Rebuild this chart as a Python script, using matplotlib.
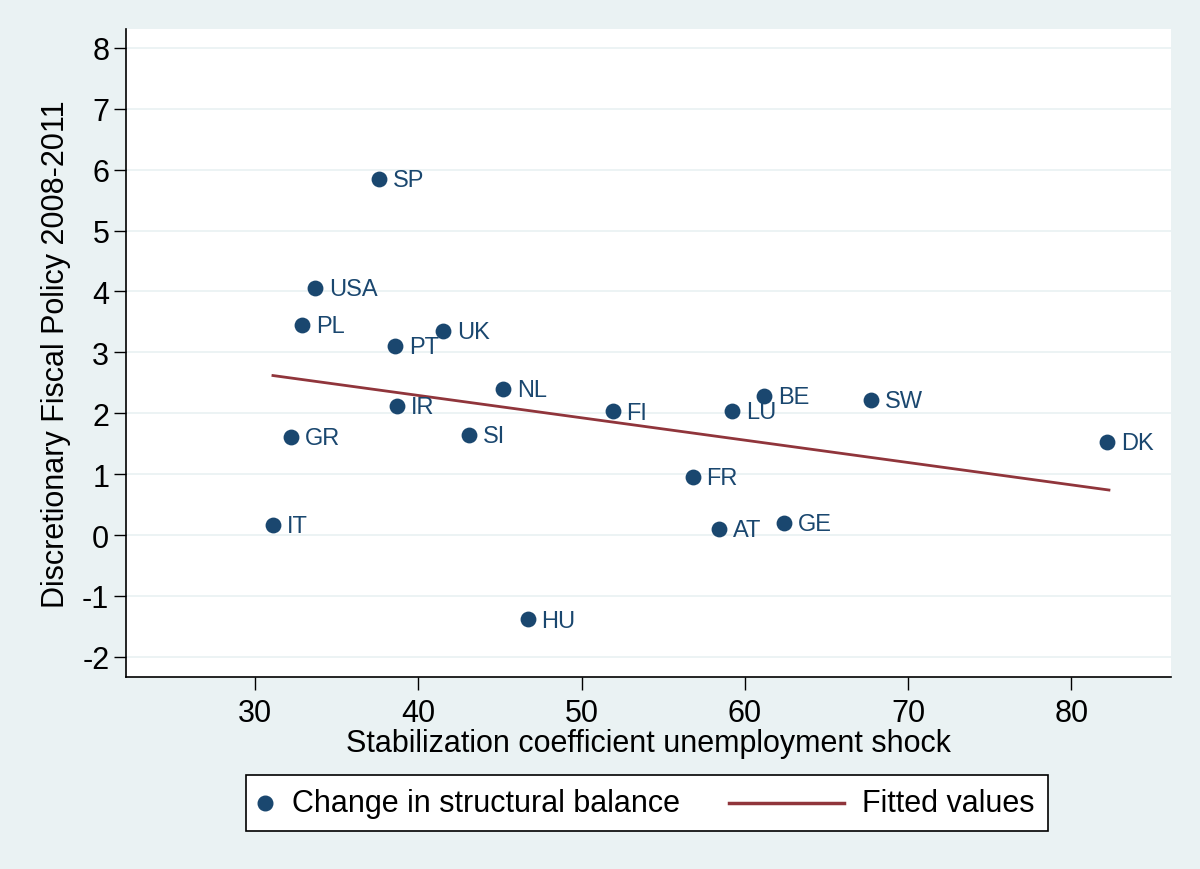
import matplotlib.pyplot as plt
from matplotlib.lines import Line2D
from matplotlib.patches import Rectangle

# Country data
countries = ['SP', 'USA', 'PL', 'PT', 'UK', 'NL', 'IR', 'GR', 'SI', 'FI',
             'FR', 'LU', 'BE', 'SW', 'DK', 'AT', 'GE', 'IT', 'HU']
stab_coef = [37.6, 33.7, 32.9, 38.6, 41.5, 45.2, 38.7, 32.2, 43.1, 51.9,
             56.8, 59.2, 61.2, 67.7, 82.2, 58.4, 62.4, 31.1, 46.7]
fiscal = [5.85, 4.06, 3.45, 3.11, 3.35, 2.40, 2.12, 1.61, 1.65, 2.03,
          0.96, 2.04, 2.29, 2.22, 1.53, 0.10, 0.20, 0.17, -1.38]

# Fitted line endpoints
fit_x = [31.1, 82.3]
fit_y = [2.62, 0.74]

legend_labels = ['Change in structural balance', 'Fitted values']

navy = '#1a476f'
maroon = '#90353b'
bg = '#eaf2f3'

plt.rcParams['font.family'] = ['Liberation Sans', 'DejaVu Sans']
plt.rcParams['axes.unicode_minus'] = False

W, H = 1200, 870
fig = plt.figure(figsize=(12, 8.7), dpi=100)
fig.set_facecolor(bg)
ax = fig.add_axes([126 / W, 1 - 678 / H, (1171 - 126) / W, (678 - 30) / H])
ax.set_facecolor('white')

ax.set_xlim(22.1, 86.1)
ax.set_ylim(-2.33, 8.31)
ax.set_xticks([30, 40, 50, 60, 70, 80])
ax.set_yticks(range(-2, 9))
ax.grid(axis='y', color=bg, linewidth=1.3)
ax.set_axisbelow(True)

for side in ['top', 'right']:
    ax.spines[side].set_visible(False)
for side in ['left', 'bottom']:
    ax.spines[side].set_linewidth(1.2)

ax.tick_params(direction='out', length=9, width=1, labelsize=22, pad=3)
ax.tick_params(axis='x', pad=6)

ax.plot(fit_x, fit_y, color=maroon, linewidth=2, zorder=2)
ax.scatter(stab_coef, fiscal, s=130, color=navy, zorder=3, linewidths=0)
for name, x, y in zip(countries, stab_coef, fiscal):
    ax.annotate(name, (x, y), xytext=(10, -1), textcoords='offset points',
                va='center', ha='left', fontsize=17, color=navy)

ax.set_xlabel('Stabilization coefficient unemployment shock', fontsize=22, labelpad=0)
ax.set_ylabel('Discretionary Fiscal Policy 2008-2011', fontsize=22, labelpad=8)

# Legend box drawn in figure pixel coordinates
ly = 1 - 804 / H
fig.patches.append(Rectangle((246 / W, 1 - 832 / H), (1048 - 246) / W, 56 / H,
                             transform=fig.transFigure, facecolor='white',
                             edgecolor='black', linewidth=1.2))
fig.add_artist(Line2D([265 / W], [ly], marker='o', markersize=10.5, color=navy,
                      linestyle='none', transform=fig.transFigure))
fig.text(292 / W, ly, legend_labels[0], fontsize=22, va='center', ha='left')
fig.add_artist(Line2D([729 / W, 844 / W], [ly, ly], color=maroon, linewidth=2.5,
                      transform=fig.transFigure))
fig.text(862 / W, ly, legend_labels[1], fontsize=22, va='center', ha='left')

fig.savefig('out.png', dpi=100, facecolor=bg)
